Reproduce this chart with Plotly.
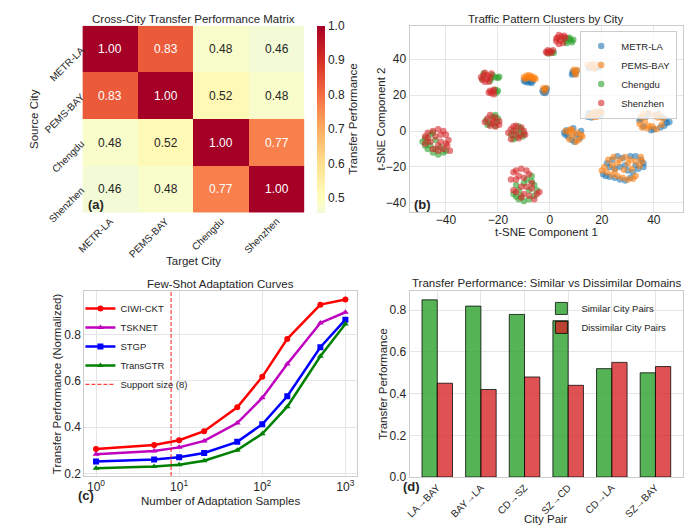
import plotly.graph_objects as go
from plotly.colors import sample_colorscale

# ---------------- data ----------------
cities = ["METR-LA", "PEMS-BAY", "Chengdu", "Shenzhen"]
transfer_matrix = [
    [1.00, 0.83, 0.48, 0.46],
    [0.83, 1.00, 0.52, 0.48],
    [0.48, 0.52, 1.00, 0.77],
    [0.46, 0.48, 0.77, 1.00],
]

metr_la_pts = [
    (-9.5, 27.5), (-8.5, 27), (-7.5, 27.3), (-8, 28), (-6.5, 28), (-9, 28.5), (-7, 26.8), (-10, 28.2),
    (-2.5, 21.5), (-1.5, 22), (-2, 23), (-1.2, 23.5), (-2.8, 22.5), (-1.8, 21.2),
    (8.5, 31.5), (9, 32.2), (9.8, 31.8), (8.8, 33), (10.2, 33.5),
    (18.5, 36), (19.5, 37), (17.5, 35), (19, 35.5), (16, 36.5), (15, 35),
    (14.5, 8), (15.5, 9.5), (16, 7.5), (17.5, 9), (18.5, 10.5), (15, 10), (19.5, 9),
    (5.5, -1), (6.5, 0.5), (7, -3), (8.5, -5), (10, -2), (11.5, -4), (12, 0), (9, 1.5), (6, -2), (9.5, -6),
    (45, 4.5), (46, 5), (44, 3), (43, 8), (41, 9), (38, 9.5), (35, 7), (34.5, 6), (36, 2.5), (40, 1),
    (42.5, 2), (37, 8), (44.5, 6.5), (39, 0.5),
    (20.5, -24), (21.5, -25), (23, -25.5), (25, -26), (27, -27), (29, -27.5), (31, -26), (22, -18),
    (24, -16), (26, -14), (28, -15), (31, -14), (33, -14), (35, -16), (36, -18), (36, -20), (34, -21),
    (32, -23), (27, -20), (29, -19), (25, -21), (23, -20), (30, -22), (33, -19),
]
pems_bay_pts = [
    (-10, 30), (-9, 30.8), (-8, 31), (-7, 30.5), (-6, 29.8), (-8.5, 29.5), (-6.5, 28.8), (-9.5, 29),
    (-7.5, 29.8), (-5.5, 29),
    (-2, 22.2), (-1.5, 24), (-2.5, 23.8),
    (9.5, 32.5), (10.5, 34), (9.2, 34.2), (10, 31.5),
    (15.5, 36), (16.5, 37.5), (17, 34.5), (18, 37), (14.5, 36.8), (16.5, 35.5), (18, 36),
    (15, 8.5), (16.5, 10), (17.5, 10.8), (18, 8), (19, 10), (20, 10.5), (16, 9), (17, 7.8), (19.5, 11),
    (6, 0), (7.5, -1), (8, 1), (9, -2.5), (10.5, -1), (11, -5), (12.5, -3), (7.5, -4.5), (10, -6),
    (8.5, 0.5), (12, -2),
    (35, 8), (36, 9.5), (38, 10), (40, 9), (42, 9.5), (43.5, 7), (34.5, 4), (35.5, 2), (37.5, 1.5),
    (39.5, 2.5), (41, 1), (43, 3.5), (36.5, 5.5), (38, 3), (41.5, 7.5),
    (20, -22), (21, -20), (22, -23), (24, -24.5), (26, -25), (28, -26), (30, -27), (32, -26.5),
    (33, -25), (22.5, -16), (24.5, -14.5), (27, -16), (29, -14.5), (31, -16), (33, -17), (35, -14.5),
    (34.5, -19.5), (31.5, -21), (28.5, -21.5), (26, -18), (24, -19), (30, -18), (25, -22), (35.5, -17),
]
chengdu_pts = [
    (-49, -6), (-48, -8), (-47, -10), (-45, -12), (-43, -13), (-41, -12), (-48, -4), (-46, -2),
    (-44, -5), (-46, -8), (-42, -9), (-44, -10), (-40, -11), (-47, -6), (-45, -1),
    (-14, -35), (-13, -36.5), (-12, -38), (-10, -39), (-8, -38), (-6, -36), (-5, -33), (-6, -30),
    (-7, -28), (-9, -27), (-10, -29), (-12, -33), (-8, -33), (-11, -36), (-13, -30), (-7, -25),
    (-15, -2), (-14, 0), (-12, -1), (-11, 1), (-10, -1.5), (-13, -3.5), (-12, 2.5), (-14, -4.5), (-10.5, -3),
    (-24.5, 6), (-23, 4), (-21, 3), (-20, 7), (-21, 9), (-22, 8), (-24, 3.5), (-20.5, 5),
    (-20, 22.5), (-20.5, 21.5), (-21, 23),
    (-21, 30), (-20, 29.5), (-19.5, 30.2), (-22, 31), (-23, 28), (-22.5, 29.5), (-25.5, 32), (-26, 29),
    (0.8, 44), (1.5, 43.6), (-0.5, 43.2),
    (6, 50), (7, 51.5), (8, 50.5), (8.5, 49.5), (7.5, 52), (6.5, 49), (5.5, 51.5), (9, 50.8),
]
shenzhen_pts = [
    (-48, -3), (-47, -1), (-45, 0), (-43, 1), (-41, 0), (-40, -2), (-39, -5), (-39.5, -8), (-41, -10),
    (-43, -11), (-45, -10), (-47, -4), (-44, -3), (-42, -6), (-46, -6), (-43, -8), (-40, -7), (-42, -2),
    (-38.5, -11), (-48, -7),
    (-14, -23), (-13, -22), (-11, -21), (-9, -22), (-8, -24), (-12, -25), (-10, -26), (-13, -27),
    (-15, -27), (-11, -31), (-9, -31), (-7, -32), (-13, -34), (-10, -35), (-8, -36), (-6, -38),
    (-5, -35), (-4, -34), (-11, -37), (-14, -33), (-7, -29),
    (-16, -1), (-15, 1), (-14, 2.5), (-13, 3), (-11, 2), (-10, 0), (-9.5, -2), (-12, -4), (-15, -4.5),
    (-13, 0), (-11.5, -2.5), (-14, -2),
    (-25, 5), (-24, 7), (-23, 9), (-22, 6), (-21, 7.5), (-19.5, 5.5), (-21, 2.5), (-23, 3), (-22, 4.5),
    (-19.5, 3.5),
    (-23.5, 21.5), (-23, 22.5), (-22, 22), (-21.5, 20.5), (-22.5, 21), (-21.5, 23),
    (-26.5, 30), (-25.5, 31), (-25, 32.5), (-24, 31), (-24, 29), (-25, 27.5), (-23, 30), (-26, 28.5),
    (-22.5, 32), (-23.5, 27.5),
    (-1.5, 44), (-0.8, 45), (0, 44.5), (0.5, 43.5), (-1, 43.5), (1.2, 45),
    (2.5, 50), (3, 52), (3.5, 53.5), (4.5, 52.5), (4, 50.5), (5, 49), (3.5, 48.5), (5.5, 53), (6, 52),
    (2.5, 51.5),
]
tsne_points = [metr_la_pts, pems_bay_pts, chengdu_pts, shenzhen_pts]
city_colors = ["#1f77b4", "#ff7f0e", "#2ca02c", "#d62728"]

samples = [1, 5, 10, 20, 50, 100, 200, 500, 1000]
ciwi_ckt = [0.306, 0.323, 0.344, 0.383, 0.486, 0.618, 0.782, 0.930, 0.952]
tsknet = [0.283, 0.297, 0.313, 0.341, 0.418, 0.527, 0.673, 0.851, 0.897]
stgp = [0.252, 0.261, 0.270, 0.289, 0.337, 0.413, 0.534, 0.746, 0.865]
transgtr = [0.223, 0.230, 0.238, 0.255, 0.301, 0.372, 0.489, 0.707, 0.846]
support_size = 8
log_tick_vals = [1, 10, 100, 1000]
log_tick_text = ["10<sup>0</sup>", "10<sup>1</sup>", "10<sup>2</sup>", "10<sup>3</sup>"]

pairs = ["LA→BAY", "BAY→LA", "CD→SZ", "SZ→CD", "CD→LA", "SZ→BAY"]
similar = [0.85, 0.82, 0.78, 0.75, 0.52, 0.50]
dissimilar = [0.45, 0.42, 0.48, 0.44, 0.55, 0.53]

# ---------------- helpers ----------------
W, H = 694, 529
FONT = "Liberation Sans, Arial, sans-serif"
TXT = "#262626"
GRID = "#e6e6e6"
FRAME = "#cccccc"


def px_x(p):
    return p / W


def px_y(p):
    return 1 - p / H


fig = go.Figure()

# (a) heatmap: RdYlBu_r centred at 0.5 (cropped to the data range)
zmin, zmax = 0.458, 1.0
n_stops = 24
stop_pos = [k / (n_stops - 1) for k in range(n_stops)]
stop_cols = sample_colorscale("RdYlBu_r", [zmin + t * (zmax - zmin) for t in stop_pos])
heat_scale = [[t, c] for t, c in zip(stop_pos, stop_cols)]

fig.add_trace(go.Heatmap(
    z=transfer_matrix, x=cities, y=cities,
    colorscale=heat_scale, zmin=zmin, zmax=zmax,
    xaxis="x", yaxis="y", showscale=True, xgap=0, ygap=0,
    colorbar=dict(
        x=px_x(306), xanchor="left", xpad=0, y=px_y(18), yanchor="top", ypad=0,
        len=191 / H, lenmode="fraction", thickness=8, outlinewidth=0,
        tickvals=[0.5, 0.6, 0.7, 0.8, 0.9, 1.0], ticktext=["0.5", "0.6", "0.7", "0.8", "0.9", "1.0"],
        tickfont=dict(size=12, color=TXT, family=FONT), ticks="",
        title=dict(text="Transfer Performance", side="right", font=dict(size=11.5, color=TXT, family=FONT)),
    ),
    hoverinfo="skip",
))
annotations = []
for i, row in enumerate(transfer_matrix):
    for j, v in enumerate(row):
        annotations.append(dict(
            x=cities[j], y=cities[i], xref="x", yref="y", text=f"{v:.2f}", showarrow=False,
            font=dict(size=12, color="white" if v > 0.7 else TXT, family=FONT)))

# (b) t-SNE scatter
for name, pts, col in zip(cities, tsne_points, city_colors):
    fig.add_trace(go.Scatter(
        x=[p[0] for p in pts], y=[p[1] for p in pts], mode="markers", name=name,
        marker=dict(color=col, size=6.5, opacity=0.6, line=dict(width=0)),
        xaxis="x2", yaxis="y2", legend="legend"))

# (c) few-shot curves
line_series = [
    ("CIWI-CKT", ciwi_ckt, "red", "circle"),
    ("TSKNET", tsknet, "#bf00bf", "triangle-up"),
    ("STGP", stgp, "blue", "square"),
    ("TransGTR", transgtr, "green", "triangle-up"),
]
for name, vals, col, sym in line_series:
    fig.add_trace(go.Scatter(
        x=samples, y=vals, mode="lines+markers", name=name,
        line=dict(color=col, width=2.5), marker=dict(color=col, size=6, symbol=sym),
        xaxis="x3", yaxis="y3", legend="legend2"))
fig.add_trace(go.Scatter(
    x=[None], y=[None], mode="lines", name=f"Support size ({support_size})",
    line=dict(color="rgba(255,0,0,0.75)", width=1.2, dash="4px,2px"),
    xaxis="x3", yaxis="y3", legend="legend2"))
shapes = [dict(type="line", xref="x3", yref="y3 domain", x0=support_size, x1=support_size, y0=0, y1=1,
               line=dict(color="rgba(255,0,0,0.75)", width=1.2, dash="4px,2px"))]

# (d) bars
fig.add_trace(go.Bar(
    x=pairs, y=similar, name="Similar City Pairs",
    marker=dict(color="rgba(44,160,44,0.8)", line=dict(color="rgba(0,0,0,0.75)", width=1)),
    xaxis="x4", yaxis="y4", legend="legend3"))
fig.add_trace(go.Bar(
    x=pairs, y=dissimilar, name="Dissimilar City Pairs",
    marker=dict(color="rgba(214,39,40,0.8)", line=dict(color="rgba(0,0,0,0.75)", width=1)),
    xaxis="x4", yaxis="y4", legend="legend3"))


# titles and axis labels
def label(text, x, y, size=11.5, angle=0, bold=False):
    annotations.append(dict(
        text=f"<b>{text}</b>" if bold else text, x=px_x(x), y=px_y(y), xref="paper", yref="paper",
        showarrow=False, textangle=angle, xanchor="center", yanchor="middle",
        font=dict(size=size, color=TXT, family=FONT)))


label("Cross-City Transfer Performance Matrix", 181, 11)
label("Traffic Pattern Clusters by City", 537, 11)
label("Few-Shot Adaptation Curves", 208.5, 282)
label("Transfer Performance: Similar vs Dissimilar Domains", 537, 281)
label("Target City", 181, 258)
label("Source City", 20, 113.5, angle=-90)
label("t-SNE Component 1", 537, 229)
label("t-SNE Component 2", 370, 113, angle=-90)
label("Number of Adaptation Samples", 208.5, 503)
label("Transfer Performance (Normalized)", 43, 383.5, angle=-90)
label("City Pair", 537, 522)
label("Transfer Performance", 372, 384, angle=-90)
label("(a)", 83, 201, size=13, bold=True)
label("(b)", 412, 201, size=13, bold=True)
label("(c)", 73, 498, size=13, bold=True)
label("(d)", 401, 489, size=13, bold=True)

tickfont = dict(size=12, color=TXT, family=FONT)
framed = dict(showgrid=True, gridcolor=GRID, gridwidth=1, showline=True, linecolor=FRAME, linewidth=1,
              mirror=True, zeroline=False, ticks="", tickfont=tickfont)
rot_font = dict(size=10, color=TXT, family=FONT)

fig.update_layout(
    width=W, height=H, margin=dict(l=0, r=0, t=0, b=0),
    paper_bgcolor="white", plot_bgcolor="white",
    font=dict(family=FONT, color=TXT),
    showlegend=True, barmode="group", bargap=0.3, bargroupgap=0.0,
    annotations=annotations, shapes=shapes,
    xaxis=dict(domain=[px_x(69), px_x(293)], anchor="y", tickangle=-45, showgrid=False, ticks="",
               tickfont=rot_font, showline=False, zeroline=False),
    yaxis=dict(domain=[px_y(209), px_y(18)], anchor="x", autorange="reversed", tickangle=-45,
               showgrid=False, ticks="", tickfont=rot_font, showline=False, zeroline=False),
    xaxis2=dict(domain=[px_x(399), px_x(675)], anchor="y2", range=[-54, 51.3], ticklabelstandoff=-3,
                tickvals=[-40, -20, 0, 20, 40], ticktext=["−40", "−20", "0", "20", "40"], **framed),
    yaxis2=dict(domain=[px_y(208), px_y(18)], anchor="x2", range=[-44.9, 58.7],
                tickvals=[-40, -20, 0, 20, 40], ticktext=["−40", "−20", "0", "20", "40"], **framed),
    xaxis3=dict(domain=[px_x(71), px_x(346)], anchor="y3", type="log", range=[-0.14, 3.14],
                tickvals=log_tick_vals, ticktext=log_tick_text, **framed),
    yaxis3=dict(domain=[px_y(478), px_y(289)], anchor="x3", range=[0.189, 0.989],
                tickvals=[0.2, 0.4, 0.6, 0.8], ticktext=["0.2", "0.4", "0.6", "0.8"], **framed),
    xaxis4=dict(domain=[px_x(399), px_x(675)], anchor="y4", range=[-0.635, 5.635], tickangle=-45,
                **{**framed, "tickfont": rot_font}),
    yaxis4=dict(domain=[px_y(479), px_y(289)], anchor="x4", range=[0, 0.8925],
                tickvals=[0, 0.2, 0.4, 0.6, 0.8], ticktext=["0.0", "0.2", "0.4", "0.6", "0.8"], **framed),
    legend=dict(x=px_x(669), xanchor="right", y=px_y(23), yanchor="top",
                bgcolor="rgba(255,255,255,0.8)", bordercolor=FRAME, borderwidth=1,
                font=dict(size=9.5, color=TXT, family=FONT)),
    legend2=dict(x=px_x(67), xanchor="left", y=px_y(292), yanchor="top",
                 bgcolor="rgba(255,255,255,0)", borderwidth=0,
                 font=dict(size=9.5, color=TXT, family=FONT)),
    legend3=dict(x=px_x(532), xanchor="left", y=px_y(292), yanchor="top",
                 bgcolor="rgba(255,255,255,0)", borderwidth=0,
                 font=dict(size=9.5, color=TXT, family=FONT)),
)

fig.write_html("out.html")
